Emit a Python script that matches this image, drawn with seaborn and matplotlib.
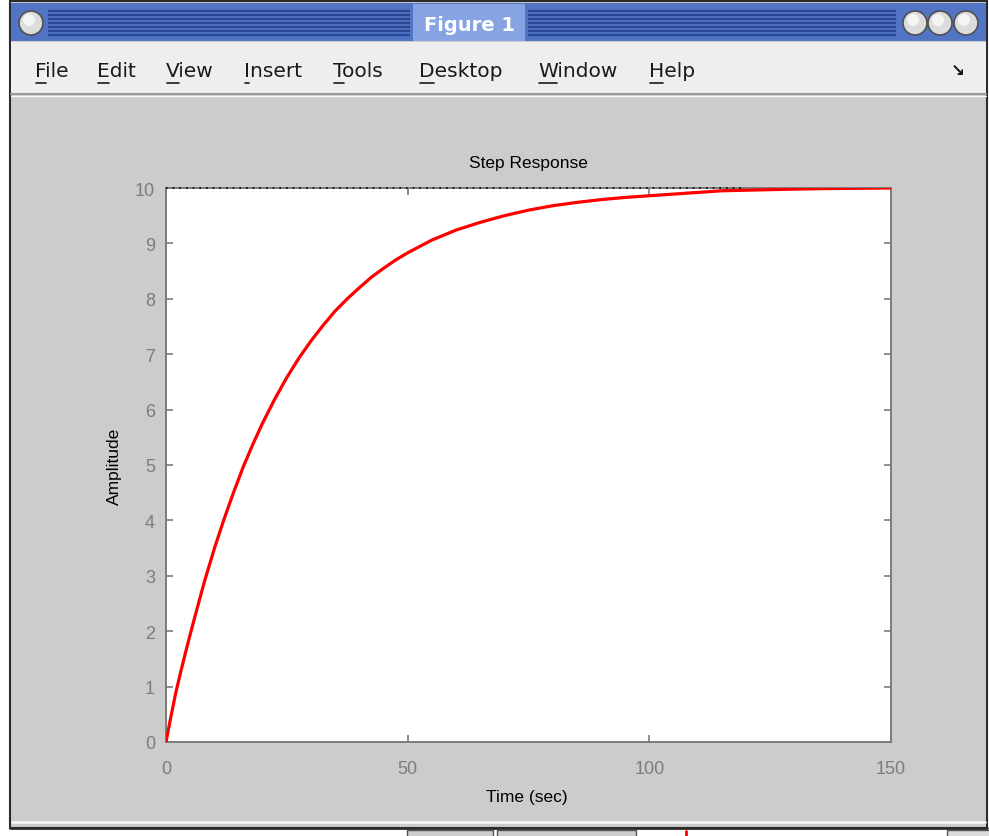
import numpy as np
import pandas as pd
import matplotlib
matplotlib.use("Agg")
import matplotlib.pyplot as plt
import seaborn as sns
from matplotlib.patches import Rectangle, Circle

# ---------------- data ----------------
time_s = [0, 1, 2, 3, 4, 5, 6, 8, 10, 12, 14, 16, 18, 20, 22.5, 25, 27.5,
          30, 32.5, 35, 37.5, 40, 42.5, 45, 47.5, 50, 55, 60, 65, 70, 75, 80,
          85, 90, 95, 100, 105, 110, 115, 120, 125, 130, 137, 150]
amplitude = [0, 0.45, 0.88, 1.25, 1.60, 1.94, 2.27, 2.91, 3.49, 4.02, 4.51,
             4.97, 5.38, 5.76, 6.19, 6.58, 6.93, 7.24, 7.52, 7.78, 8.00, 8.20,
             8.39, 8.55, 8.70, 8.83, 9.06, 9.24, 9.38, 9.50, 9.60, 9.68, 9.74,
             9.79, 9.83, 9.86, 9.89, 9.92, 9.95, 9.96, 9.97, 9.98, 9.99, 10.0]
steady_state = 10
steady_line_t = [0, 120]
x_ticks = [0, 50, 100, 150]
y_ticks = [0, 1, 2, 3, 4, 5, 6, 7, 8, 9, 10]
menu_items = ["File", "Edit", "View", "Insert", "Tools", "Desktop", "Window", "Help"]
menu_x = [35, 97, 166, 244, 333, 419, 538, 649]

df = pd.DataFrame({"Time (sec)": time_s, "Amplitude": amplitude})

sns.set_theme(style="white")
plt.rcParams["font.family"] = ["Liberation Sans", "DejaVu Sans"]

W, H = 989, 837
fig = plt.figure(figsize=(W / 100, H / 100), dpi=100, facecolor="white")

# ---------------- window chrome ----------------
bg = fig.add_axes([0, 0, 1, 1])
bg.set_xlim(0, W)
bg.set_ylim(H, 0)
bg.axis("off")

bg.add_patch(Rectangle((10, 2), 977, 827, facecolor="#cccccc", edgecolor="#2b2b2b", lw=1.5))
# title bar
bg.add_patch(Rectangle((11, 4), 975, 38, facecolor="#5174c4", edgecolor="none"))
for yy in [12, 16, 20, 24, 28, 32, 36]:
    bg.plot([48, 410], [yy, yy], color="#2a4592", lw=1.6, solid_capstyle="butt")
    bg.plot([528, 896], [yy, yy], color="#2a4592", lw=1.6, solid_capstyle="butt")
bg.add_patch(Rectangle((413, 5), 112, 37, facecolor="#86a3e2", edgecolor="none"))
bg.text(469, 25, "Figure 1", color="white", fontsize=14, fontweight="bold",
        ha="center", va="center", family="DejaVu Sans")
for cx in [31, 915, 940, 966]:
    bg.add_patch(Circle((cx, 24), 12, facecolor="#dcdcdc", edgecolor="#505050", lw=1.2))
    bg.add_patch(Circle((cx - 2, 21), 6, facecolor="#f4f4f4", edgecolor="none"))

# menu bar
bg.add_patch(Rectangle((11, 43), 975, 52, facecolor="#eeeeee", edgecolor="none"))
bg.plot([11, 986], [95, 95], color="#9a9a9a", lw=1.5)
bg.plot([11, 986], [96.5, 96.5], color="#f8f8f8", lw=1)
fig.canvas.draw()
renderer = fig.canvas.get_renderer()
for name, mx in zip(menu_items, menu_x):
    bg.text(mx, 71, name, fontsize=14.5, color="#1a1a1a", ha="left",
            va="center", family="DejaVu Sans")
    t0 = bg.text(mx, 71, name[0], fontsize=14.5, alpha=0, ha="left",
                 va="center", family="DejaVu Sans")
    ext = t0.get_window_extent(renderer)
    wpx = ext.width
    bg.plot([mx + 1, mx + wpx - 1], [84, 84], color="#1a1a1a", lw=1.2)
bg.text(958, 71, "\u2198", fontsize=12, fontweight="bold", color="#111111",
        ha="center", va="center", family="DejaVu Sans")

# bottom edge
bg.plot([12, 985], [823, 823], color="#f4f4f4", lw=2)
bg.plot([10, 987], [829, 829], color="#2b2b2b", lw=2)
bg.add_patch(Rectangle((407, 831), 86, 8, facecolor="#cccccc", edgecolor="#555555", lw=1))
bg.add_patch(Rectangle((497, 831), 139, 8, facecolor="#cccccc", edgecolor="#555555", lw=1))
bg.add_patch(Rectangle((947, 831), 45, 8, facecolor="#dddddd", edgecolor="#555555", lw=1))
bg.plot([686, 686], [832, 837], color="red", lw=2)

# ---------------- main axes ----------------
left, right, top, bottom = 166, 891, 189, 743
ax = fig.add_axes([left / W, 1 - bottom / H, (right - left) / W, (bottom - top) / H])
ax.set_facecolor("white")

sns.lineplot(data=df, x="Time (sec)", y="Amplitude", ax=ax, color="red",
             linewidth=2.3, zorder=3)
ax.plot(steady_line_t, [steady_state, steady_state], color="black",
        linestyle=(0, (1, 3)), lw=1.2, clip_on=False, zorder=4)

ax.set_xlim(0, 150)
ax.set_ylim(0, 10)
ax.set_xticks(x_ticks)
ax.set_yticks(y_ticks)

gray = "#7c7c7c"
for sp in ax.spines.values():
    sp.set_color(gray)
    sp.set_linewidth(1.4)
    sp.set_visible(True)
ax.tick_params(axis="both", which="both", direction="in", length=5, width=1.2,
               color=gray, labelcolor=gray, labelsize=13,
               top=True, right=True, bottom=True, left=True)
ax.tick_params(axis="x", pad=13)
ax.tick_params(axis="y", pad=8)

ax.set_title("Step Response", fontsize=12.5, color="black", pad=15)
ax.set_xlabel("Time (sec)", fontsize=12.5, color="black")
ax.set_ylabel("Amplitude", fontsize=12.5, color="black")
ax.xaxis.set_label_coords((527 - left) / (right - left), (bottom - 790) / (bottom - top))
ax.yaxis.set_label_coords((122 - left) / (right - left), 0.5)

fig.savefig("out.png", dpi=100, facecolor=fig.get_facecolor())
